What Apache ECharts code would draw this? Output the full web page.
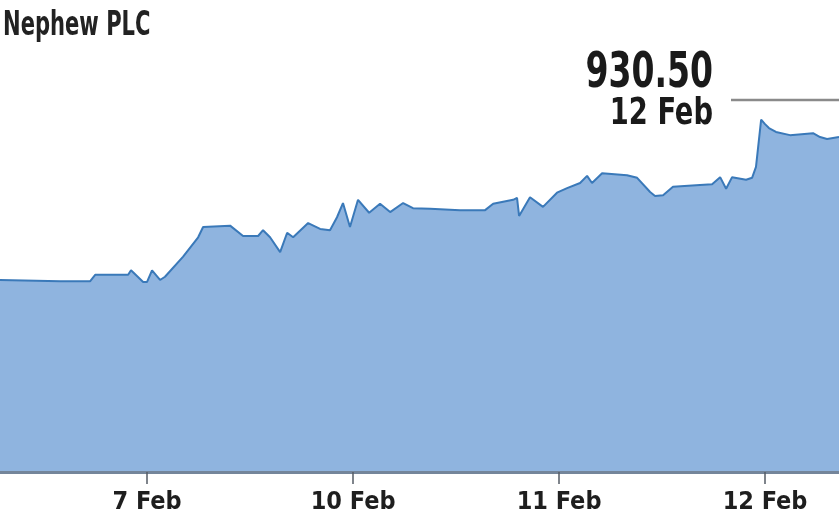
<!DOCTYPE html>
<html>
<head>
<meta charset="utf-8">
<script src="https://cdn.jsdelivr.net/npm/echarts@6/dist/echarts.min.js"></script>
<style>
  html, body { margin: 0; padding: 0; background: #ffffff; }
  #chart { width: 839px; height: 523px; }
</style>
</head>
<body>
<div id="chart"></div>
<script>
// Trading-day position (0 = 7 Feb, 1 = 10 Feb, 2 = 11 Feb, 3 = 12 Feb)
var dayPos = [-0.714,-0.422,-0.277,-0.252,-0.092,-0.078,-0.019,0,0.024,0.063,0.087,0.175,0.248,0.272,0.403,0.466,0.539,0.563,0.597,0.646,0.680,0.709,0.782,0.840,0.888,0.922,0.951,0.985,1.024,1.078,1.131,1.180,1.243,1.291,1.374,1.519,1.641,1.680,1.777,1.796,1.806,1.859,1.922,1.990,2.039,2.102,2.136,2.160,2.209,2.330,2.379,2.442,2.466,2.505,2.553,2.684,2.743,2.782,2.811,2.840,2.908,2.937,2.956,2.981,3.000,3.019,3.053,3.121,3.233,3.267,3.301,3.359];
var prices = [905.7,905.5,905.5,906.5,906.5,907.2,905.4,905.4,907.2,905.7,906.2,909.3,912.3,913.9,914.1,912.5,912.5,913.4,912.3,910.0,913.0,912.3,914.5,913.6,913.4,915.4,917.6,913.9,918.1,916.1,917.5,916.2,917.6,916.8,916.7,916.5,916.5,917.5,918.1,918.4,915.6,918.5,917.0,919.2,919.9,920.7,921.8,920.7,922.2,921.9,921.5,919.3,918.7,918.8,920.1,920.4,920.5,921.6,919.8,921.6,921.2,921.5,923.2,930.5,929.8,929.2,928.6,928.1,928.4,927.8,927.5,927.8];
var tickValues = [0, 1, 2, 3];
var tickLabels = ['7 Feb', '10 Feb', '11 Feb', '12 Feb'];
var titleText = 'Nephew PLC';
var peakValue = '930.50';
var peakDate = '12 Feb';

var FONT = '"DejaVu Sans Condensed", "Liberation Sans Narrow", sans-serif';
var seriesData = dayPos.map(function (d, i) { return [d, prices[i]]; });

var chart = echarts.init(document.getElementById('chart'), null, { renderer: 'canvas' });
chart.setOption({
  backgroundColor: '#ffffff',
  animation: false,
  grid: { left: 0, right: 0, top: 0, bottom: 51, containLabel: false },
  xAxis: {
    type: 'value',
    min: -0.714,
    max: 3.359,
    z: 5,
    splitLine: { show: false },
    axisLine: { show: true, onZero: false, lineStyle: { color: '#74859a', width: 3 } },
    axisTick: {
      show: true, customValues: tickValues, length: 12, inside: false,
      lineStyle: { color: '#555c66', width: 1.5 }
    },
    axisLabel: {
      show: true, customValues: tickValues, margin: 18,
      color: '#1e1e1e', fontFamily: FONT, fontWeight: 'bold', fontSize: 25,
      formatter: function (v) {
        var i = tickValues.indexOf(Math.round(v));
        return i >= 0 ? tickLabels[i] : '';
      }
    }
  },
  yAxis: {
    type: 'value',
    min: 876,
    max: 949,
    show: false,
    splitLine: { show: false }
  },
  series: [{
    type: 'line',
    data: seriesData,
    symbol: 'none',
    smooth: false,
    lineStyle: { color: '#3a79b9', width: 2 },
    areaStyle: { color: '#8fb4df', opacity: 1, origin: 'start' },
    z: 2
  }],
  graphic: [
    {
      type: 'text', x: 3, y: 10, scaleX: 0.71,
      style: { text: titleText, fill: '#222222', font: 'bold 33px ' + FONT, textAlign: 'left', textVerticalAlign: 'top' }
    },
    {
      type: 'text', x: 713, y: 50, scaleX: 0.75,
      style: { text: peakValue, fill: '#1a1a1a', font: 'bold 49px ' + FONT, textAlign: 'right', textVerticalAlign: 'top' }
    },
    {
      type: 'text', x: 713, y: 95, scaleX: 0.8,
      style: { text: peakDate, fill: '#1a1a1a', font: 'bold 38px ' + FONT, textAlign: 'right', textVerticalAlign: 'top' }
    },
    {
      type: 'line',
      shape: { x1: 731, y1: 100, x2: 839, y2: 100 },
      style: { stroke: '#8a8a8a', lineWidth: 2.5 }
    }
  ]
});
</script>
</body>
</html>
